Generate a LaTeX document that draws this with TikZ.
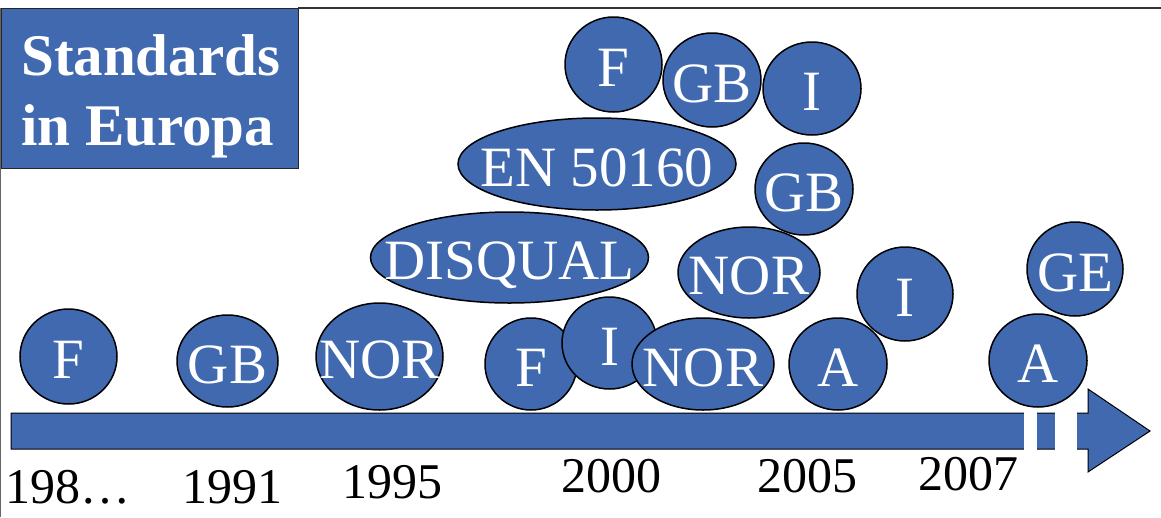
\documentclass[tikz,border=0pt]{standalone}
\usepackage{fontspec}
\setmainfont{Liberation Serif}
\usetikzlibrary{shapes.geometric}
\definecolor{eublue}{RGB}{64,105,175}
\newcommand\zb[1]{\makebox[0pt]{#1}}
\begin{document}
\begin{tikzpicture}[x=1pt,y=-1pt,
  blob/.style={ellipse, draw=black, line width=1.5pt, fill=eublue, text=white, inner sep=0pt,
    font=\fontsize{57}{57}\selectfont, text height=44pt, text depth=0pt},
  yearlbl/.style={anchor=base, inner sep=0pt, font=\fontsize{50}{50}\selectfont, text=black},
  titlelbl/.style={anchor=base west, inner sep=0pt, font=\fontsize{59}{59}\selectfont\bfseries, text=white}]
\useasboundingbox (0,0) rectangle (1161,517);
% frame lines
\draw[line width=1.3pt, black!80] (298,8) -- (1161,8);
\draw[line width=1pt, black!60] (0.6,8) -- (0.6,517);
% title box
\node[draw=black!85, line width=1.3pt, fill=eublue, minimum width=297pt, minimum height=160pt, anchor=north west, inner sep=0pt] (title) at (1,8) {};
\node[titlelbl] (t1) at (21,75) {Standards};
\node[titlelbl] (t2) at (21,145) {in Europa};
% timeline arrow
\draw[fill=eublue, draw=black, line width=1pt] (11,413) -- (1088,413) -- (1088,389) -- (1150,431) -- (1088,472) -- (1088,449) -- (11,449) -- cycle;
\fill[white] (1024,410) rectangle (1037,452);
\fill[white] (1055,410) rectangle (1077,452);
% years
\node[yearlbl] (y1) at (68,503) {198…};
\node[yearlbl] (y2) at (232,503) {1991};
\node[yearlbl] (y3) at (392,498) {1995};
\node[yearlbl] (y4) at (611,492) {2000};
\node[yearlbl] (y5) at (807,492) {2005};
\node[yearlbl] (y6) at (968,490) {2007};
% bottom row
\node[blob, minimum width=97pt, minimum height=95pt] (f1) at (68.5,356.5) {\zb{F}};
\node[blob, minimum width=101pt, minimum height=92pt] (gb1) at (227.5,361) {\zb{GB}};
\node[blob, minimum width=127pt, minimum height=107pt] (nor1) at (379.5,356.5) {\zb{NOR}};
\node[blob, minimum width=92pt, minimum height=92pt] (f2) at (531,364) {\zb{F}};
\node[blob, minimum width=95pt, minimum height=92pt] (i1) at (609.5,343) {\zb{I}};
\node[blob, minimum width=142pt, minimum height=92pt] (nor2) at (703,364) {\zb{NOR}};
\node[blob, minimum width=98pt, minimum height=92pt] (a1) at (838,364) {\zb{A}};
\node[blob, minimum width=98pt, minimum height=93pt] (a2) at (1038,360.5) {\zb{A}};
% middle
\node[blob, minimum width=96pt, minimum height=94pt] (ge) at (1075,269) {\zb{GE}};
\node[blob, minimum width=96pt, minimum height=94pt] (i2) at (905,294) {\zb{I}};
\node[blob, minimum width=98pt, minimum height=92pt] (gb2) at (804,189) {\zb{GB}};
\node[blob, minimum width=142pt, minimum height=91pt] (nor3) at (749,272.5) {\zb{NOR}};
\node[blob, minimum width=278pt, minimum height=91pt] (disq) at (509.5,257.5) {\zb{DISQUAL}};
\node[blob, minimum width=278pt, minimum height=92pt] (en) at (597,164) {\zb{EN 50160}};
% top
\node[blob, minimum width=97pt, minimum height=95pt] (f3) at (613.5,64.5) {\zb{F}};
\node[blob, minimum width=98pt, minimum height=94pt] (gb3) at (712,80) {\zb{GB}};
\node[blob, minimum width=98pt, minimum height=93pt] (i3) at (812,88.5) {\zb{I}};
\end{tikzpicture}
\end{document}
